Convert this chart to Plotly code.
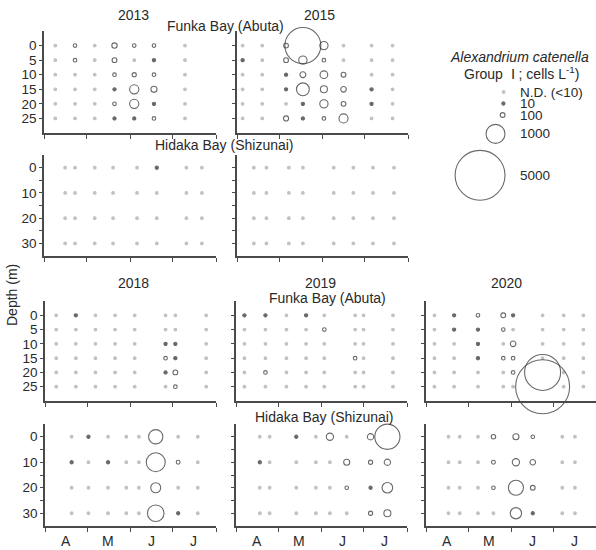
import plotly.graph_objects as go

W, H = 596, 550
FONT = "Liberation Sans, Arial, sans-serif"

# ---------------- data (cells L-1; 0 = N.D.) ----------------
funka_depths = [0, 5, 10, 15, 20, 25]
hidaka_depths = [0, 10, 20, 30]

funka_2013_dates = ["2013-04-09", "2013-04-23", "2013-05-07", "2013-05-21", "2013-06-04", "2013-06-18", "2013-07-10"]
funka_2013 = [
    [0, 30, 0, 120, 60, 30, 0],
    [0, 60, 0, 100, 0, 10, 0],
    [0, 0, 0, 30, 80, 30, 0],
    [0, 0, 0, 10, 300, 150, 0],
    [0, 0, 0, 40, 300, 10, 0],
    [0, 0, 0, 10, 10, 30, 0],
]
hidaka_2013_dates = ["2013-04-16", "2013-04-23", "2013-05-07", "2013-05-20", "2013-06-06", "2013-06-20", "2013-07-11", "2013-07-22"]
hidaka_2013 = [
    [0, 0, 0, 0, 0, 10, 0, 0],
    [0, 0, 0, 0, 0, 0, 0, 0],
    [0, 0, 0, 0, 0, 0, 0, 0],
    [0, 0, 0, 0, 0, 0, 0, 0],
]
funka_2015_dates = ["2015-04-05", "2015-04-19", "2015-05-06", "2015-05-18", "2015-06-02", "2015-06-16", "2015-07-06", "2015-07-21"]
funka_2015 = [
    [0, 0, 100, 2900, 250, 0, 0, 0],
    [10, 0, 100, 250, 30, 0, 0, 0],
    [0, 0, 10, 140, 220, 100, 0, 0],
    [0, 0, 10, 520, 190, 130, 10, 0],
    [0, 0, 0, 10, 250, 100, 20, 0],
    [0, 0, 110, 10, 30, 290, 0, 0],
]
hidaka_2015_dates = ["2015-04-13", "2015-04-22", "2015-05-08", "2015-05-18", "2015-06-09", "2015-06-23", "2015-07-07", "2015-07-22"]
hidaka_2015 = [
    [0, 0, 0, 0, 0, 0, 0, 0],
    [0, 0, 0, 0, 0, 0, 0, 0],
    [0, 0, 0, 0, 0, 0, 0, 0],
    [0, 0, 0, 0, 0, 0, 0, 0],
]
funka_2018_dates = ["2018-04-09", "2018-04-23", "2018-05-07", "2018-05-21", "2018-06-04", "2018-06-26", "2018-07-03", "2018-07-25"]
funka_2018 = [
    [0, 10, 0, 0, 0, 0, 0, 0],
    [0, 0, 0, 0, 0, 0, 0, 0],
    [0, 0, 0, 0, 0, 10, 10, 0],
    [0, 0, 0, 0, 0, 40, 10, 0],
    [0, 0, 0, 0, 0, 10, 100, 0],
    [0, 0, 0, 0, 0, 0, 50, 0],
]
hidaka_2018_dates = ["2018-04-20", "2018-05-02", "2018-05-16", "2018-05-29", "2018-06-07", "2018-06-19", "2018-07-05", "2018-07-19"]
hidaka_2018 = [
    [0, 10, 0, 0, 0, 620, 0, 0],
    [10, 0, 10, 0, 0, 1000, 70, 0],
    [0, 0, 0, 0, 0, 340, 0, 0],
    [0, 0, 0, 0, 0, 800, 10, 0],
]
funka_2019_dates = ["2019-04-07", "2019-04-22", "2019-05-07", "2019-05-21", "2019-06-03", "2019-06-25", "2019-07-01", "2019-07-22"]
funka_2019 = [
    [10, 10, 0, 10, 0, 0, 0, 0],
    [0, 0, 0, 0, 40, 0, 0, 0],
    [0, 0, 0, 0, 0, 0, 0, 0],
    [0, 0, 0, 0, 0, 50, 0, 0],
    [0, 40, 0, 0, 0, 0, 0, 0],
    [0, 0, 0, 0, 0, 0, 0, 0],
]
hidaka_2019_dates = ["2019-04-18", "2019-04-25", "2019-05-14", "2019-05-28", "2019-06-07", "2019-06-19", "2019-07-06", "2019-07-18"]
hidaka_2019 = [
    [0, 0, 10, 0, 200, 0, 160, 1600],
    [10, 0, 0, 0, 0, 150, 80, 160],
    [0, 0, 0, 0, 0, 50, 10, 380],
    [0, 0, 0, 0, 0, 0, 80, 190],
]
funka_2020_dates = ["2020-04-07", "2020-04-21", "2020-05-08", "2020-05-26", "2020-06-02", "2020-06-23", "2020-07-08", "2020-07-22"]
funka_2020 = [
    [0, 10, 40, 100, 10, 0, 0, 0],
    [0, 10, 10, 40, 0, 0, 0, 0],
    [0, 0, 10, 0, 130, 0, 0, 0],
    [0, 0, 10, 40, 40, 0, 0, 0],
    [0, 0, 0, 0, 30, 2900, 0, 0],
    [0, 0, 0, 0, 0, 5700, 0, 0],
]
hidaka_2020_dates = ["2020-04-17", "2020-04-25", "2020-05-08", "2020-05-19", "2020-06-04", "2020-06-16", "2020-07-07", "2020-07-16"]
hidaka_2020 = [
    [0, 0, 0, 90, 150, 50, 0, 0],
    [0, 0, 0, 70, 200, 130, 0, 0],
    [0, 0, 0, 40, 680, 100, 0, 0],
    [0, 0, 0, 0, 420, 10, 0, 0],
]

month_labels = ["A", "M", "J", "J"]
legend_values = [0, 10, 100, 1000, 5000]
legend_labels = ["N.D. (<10)", "10", "100", "1000", "5000"]

# ---------------- styling helpers ----------------
ND_COLOR = "#a8a8a8"
INK = "#2a2a2a"
AXIS = "#4a4a4a"


def diameter(v):
    return max(3.6, 19.0 * (v / 1000.0) ** 0.6)


def style_of(v):
    """return (symbol, size, color) for a concentration value"""
    if v == 0:
        return "circle", 2.7, ND_COLOR
    if v <= 20:
        return "circle", 3.2, INK
    return "circle-open", diameter(v), INK


def txt(text, x, y, size=14, **kw):
    d = dict(x=x, y=y, text=text, showarrow=False, xanchor="center", yanchor="middle",
             font=dict(family=FONT, size=size, color=INK))
    d.update(kw)
    return d


# panel layout: (dates, values, depths, year, box px (x0,x1,ytop,ybot), ylabels, monthlabels)
panels = [
    (funka_2013_dates, funka_2013, funka_depths, 2013, (44, 216, 31, 133), True, False),
    (funka_2015_dates, funka_2015, funka_depths, 2015, (237, 408, 31, 133), False, False),
    (hidaka_2013_dates, hidaka_2013, hidaka_depths, 2013, (44, 216, 155, 256), True, False),
    (hidaka_2015_dates, hidaka_2015, hidaka_depths, 2015, (237, 408, 155, 256), False, False),
    (funka_2018_dates, funka_2018, funka_depths, 2018, (45, 216, 301, 401), True, False),
    (funka_2019_dates, funka_2019, funka_depths, 2019, (236, 407, 301, 401), False, False),
    (funka_2020_dates, funka_2020, funka_depths, 2020, (426, 596, 301, 401), False, False),
    (hidaka_2018_dates, hidaka_2018, hidaka_depths, 2018, (45, 216, 424, 526), True, True),
    (hidaka_2019_dates, hidaka_2019, hidaka_depths, 2019, (236, 407, 424, 526), False, True),
    (hidaka_2020_dates, hidaka_2020, hidaka_depths, 2020, (426, 596, 424, 526), False, True),
]

fig = go.Figure()
layout = {}
annotations = []

for i, (dates, vals, depths, year, box, ylab, mlab) in enumerate(panels):
    n = i + 1
    xa, ya = ("x" if n == 1 else f"x{n}"), ("y" if n == 1 else f"y{n}")
    xk, yk = ("xaxis" if n == 1 else f"xaxis{n}"), ("yaxis" if n == 1 else f"yaxis{n}")
    x0, x1, yt, yb = box
    xs, ys, syms, sizes, cols = [], [], [], [], []
    for r, d in enumerate(depths):
        for c, dt in enumerate(dates):
            s, sz, col = style_of(vals[r][c])
            xs.append(dt); ys.append(d); syms.append(s); sizes.append(sz); cols.append(col)
    fig.add_trace(go.Scatter(x=xs, y=ys, mode="markers", xaxis=xa, yaxis=ya, cliponaxis=False,
                             marker=dict(symbol=syms, size=sizes, color=cols, line=dict(width=1.1, color=cols)),
                             showlegend=False, hoverinfo="skip"))

    month_starts = [f"{year}-{m:02d}-01" for m in (4, 5, 6, 7, 8)]
    xend = f"{year}-07-31" if x1 >= W else f"{year}-08-01"
    layout[xk] = dict(domain=[x0 / W, min(1.0, x1 / W)], anchor=ya, type="date",
                      range=[f"{year}-04-01", xend],
                      tickmode="array", tickvals=month_starts, showticklabels=False,
                      ticks="outside", ticklen=4, tickwidth=1.2, tickcolor=AXIS,
                      showline=True, linecolor=AXIS, linewidth=1.5, showgrid=False, zeroline=False)
    if depths is funka_depths:
        yr = [30, -5]
        tv = funka_depths
        tt = [str(t) for t in tv]
    else:
        yr = [35, -5]
        tv = [0, 5, 10, 15, 20, 25, 30]
        tt = [str(t) if t % 10 == 0 else " " for t in tv]
    layout[yk] = dict(domain=[1 - yb / H, 1 - yt / H], anchor=xa, range=yr,
                      tickmode="array", tickvals=tv, ticktext=tt, showticklabels=ylab,
                      ticks="outside", ticklen=3, tickwidth=1.2, tickcolor=AXIS,
                      tickfont=dict(family=FONT, size=13.5, color=INK),
                      showline=True, linecolor=AXIS, linewidth=1.5, showgrid=False, zeroline=False)
    if mlab:
        mids = [f"{year}-04-16", f"{year}-05-16", f"{year}-06-16", f"{year}-07-16"]
        for lab, md in zip(month_labels, mids):
            annotations.append(txt(lab, md, 1 - 541 / H, xref=xa, yref="paper"))

# ---------------- legend (hidden pixel-scaled axis over the key area) ----------------
LX0, LX1, LY0, LY1 = 440, 596, 80, 210
LEG_RIGHT, LEG_TOP, LEG_TEXT_X = 505, 92, 518
leg_x, leg_y, leg_s, leg_sym, leg_c = [], [], [], [], []
prev = None
ycur = LEG_TOP
for v in legend_values:
    s, d, col = style_of(v)
    if prev is not None:
        ycur += max(11.5, (prev + d) / 2 + 7)
    leg_x.append(LEG_RIGHT - d / 2); leg_y.append(ycur)
    leg_s.append(d); leg_sym.append(s); leg_c.append(col)
    prev = d

fig.add_trace(go.Scatter(x=leg_x, y=leg_y, mode="markers", xaxis="x11", yaxis="y11", cliponaxis=False,
                         marker=dict(symbol=leg_sym, size=leg_s, color=leg_c, line=dict(width=1.1, color=leg_c)),
                         showlegend=False, hoverinfo="skip"))
layout["xaxis11"] = dict(domain=[LX0 / W, LX1 / W], range=[LX0, LX1], visible=False, anchor="y11")
layout["yaxis11"] = dict(domain=[1 - LY1 / H, 1 - LY0 / H], range=[LY1, LY0], visible=False, anchor="x11")
for lab, yy in zip(legend_labels, leg_y):
    annotations.append(txt(lab, LEG_TEXT_X, yy, size=13.5, xref="x11", yref="y11", xanchor="left"))

annotations.append(txt("<i>Alexandrium catenella</i>", 519 / W, 1 - 57 / H, xref="paper", yref="paper"))
annotations.append(txt("Group  Ⅰ ; cells L<sup>-1</sup>)", 521 / W, 1 - 73 / H, xref="paper", yref="paper"))

# ---------------- titles ----------------
titles = [
    ("2013", 133, 15), ("2015", 319, 15), ("Funka Bay (Abuta)", 225, 26),
    ("Hidaka Bay (Shizunai)", 224, 145),
    ("2018", 133, 283), ("2019", 320, 283), ("2020", 506, 283),
    ("Funka Bay (Abuta)", 327, 298), ("Hidaka Bay (Shizunai)", 324, 417),
]
for t, px, py in titles:
    annotations.append(txt(t, px / W, 1 - py / H, xref="paper", yref="paper"))
annotations.append(txt("Depth (m)", 12 / W, 1 - 295 / H, xref="paper", yref="paper", textangle=-90))

fig.update_layout(width=W, height=H, margin=dict(l=0, r=0, t=0, b=0),
                  paper_bgcolor="white", plot_bgcolor="rgba(0,0,0,0)",
                  showlegend=False, annotations=annotations, **layout)

fig.write_html("out.html", config={"displayModeBar": False},
               post_script="document.body.style.margin='0px';")
